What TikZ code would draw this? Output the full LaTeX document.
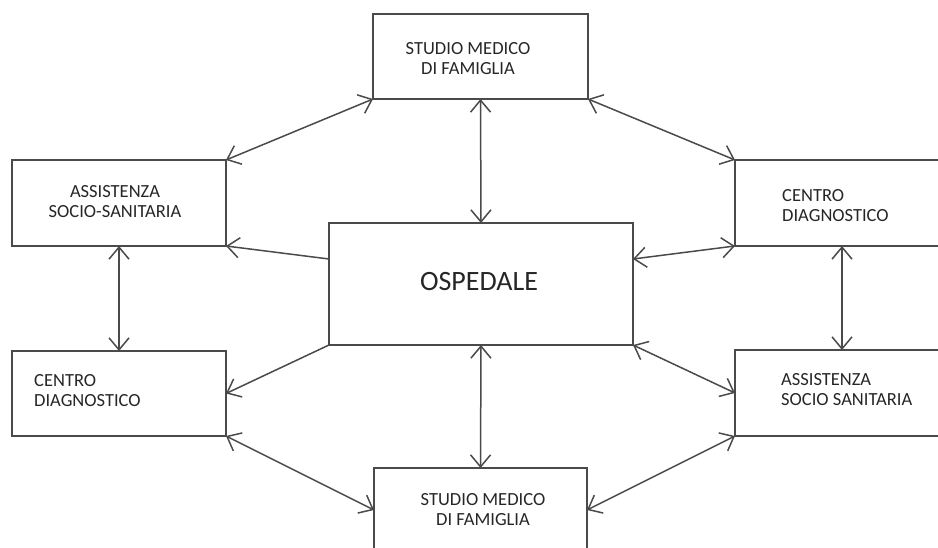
\documentclass[tikz,border=0pt]{standalone}
\usepackage{fontspec}
\setmainfont{Carlito}
\usetikzlibrary{arrows.meta}
\definecolor{linegray}{HTML}{4A4A4A}
\definecolor{textgray}{HTML}{262626}
\begin{document}
\begin{tikzpicture}[x=1pt,y=-1pt,
  >={Straight Barb[length=12pt,width=20pt]},
  box/.style={draw=linegray,line width=1.6pt,rectangle,inner sep=0pt,outer sep=0pt,anchor=north west},
  txt/.style={inner sep=0pt,text=textgray,font=\fontsize{18.5}{20.5}\selectfont},
  link/.style={draw=linegray,line width=1.5pt}]
\clip (0,0) rectangle (938,548);

% caselle
\node[box,minimum width=215pt,minimum height=85pt] (famt) at (373,14) {};
\node[box,minimum width=214pt,minimum height=86pt] (astl) at (12,160) {};
\node[box,minimum width=214pt,minimum height=86pt] (cdr) at (735,160) {};
\node[box,minimum width=304pt,minimum height=122pt] (osp) at (329,223) {};
\node[box,minimum width=214pt,minimum height=85pt] (cdl) at (12,351) {};
\node[box,minimum width=214pt,minimum height=86pt] (asr) at (735,350) {};
\node[box,minimum width=213pt,minimum height=84pt] (famb) at (374,468) {};

% testi
\node[txt,align=center,anchor=north] (famt-t) at (468,42) {STUDIO MEDICO\\DI FAMIGLIA};
\node[txt,align=center,anchor=north] (astl-t) at (115,185) {ASSISTENZA\\SOCIO-SANITARIA};
\node[txt,align=left,anchor=north west] (cdr-t) at (782,189) {CENTRO\\DIAGNOSTICO};
\node[txt,font=\fontsize{28}{30}\selectfont] (osp-t) at (479,282) {OSPEDALE};
\node[txt,align=left,anchor=north west] (cdl-t) at (34,374) {CENTRO\\DIAGNOSTICO};
\node[txt,align=left,anchor=north west] (asr-t) at (781,373) {ASSISTENZA\\SOCIO SANITARIA};
\node[txt,align=center,anchor=north] (famb-t) at (483,493) {STUDIO MEDICO\\DI FAMIGLIA};

% collegamenti
\draw[link,<->] (famt.south west) -- (astl.north east);
\draw[link,<->] (famt.south east) -- (cdr.north west);
\draw[link,<->] (famt.south) -- (osp.north);
\draw[link,->] ([yshift=25pt]osp.west) -- (astl.south east);
\draw[link,<->] ([yshift=25pt]osp.east) -- (cdr.south west);
\draw[link,<->] (astl.south) -- (cdl.north);
\draw[link,<->] (cdr.south) -- (asr.north);
\draw[link,->] (osp.south west) -- (cdl.east);
\draw[link,<->] (osp.south east) -- (asr.west);
\draw[link,<->] (osp.south) -- (famb.north);
\draw[link,<->] (cdl.south east) -- (famb.west);
\draw[link,<->] (asr.south west) -- (famb.east);
\end{tikzpicture}
\end{document}
